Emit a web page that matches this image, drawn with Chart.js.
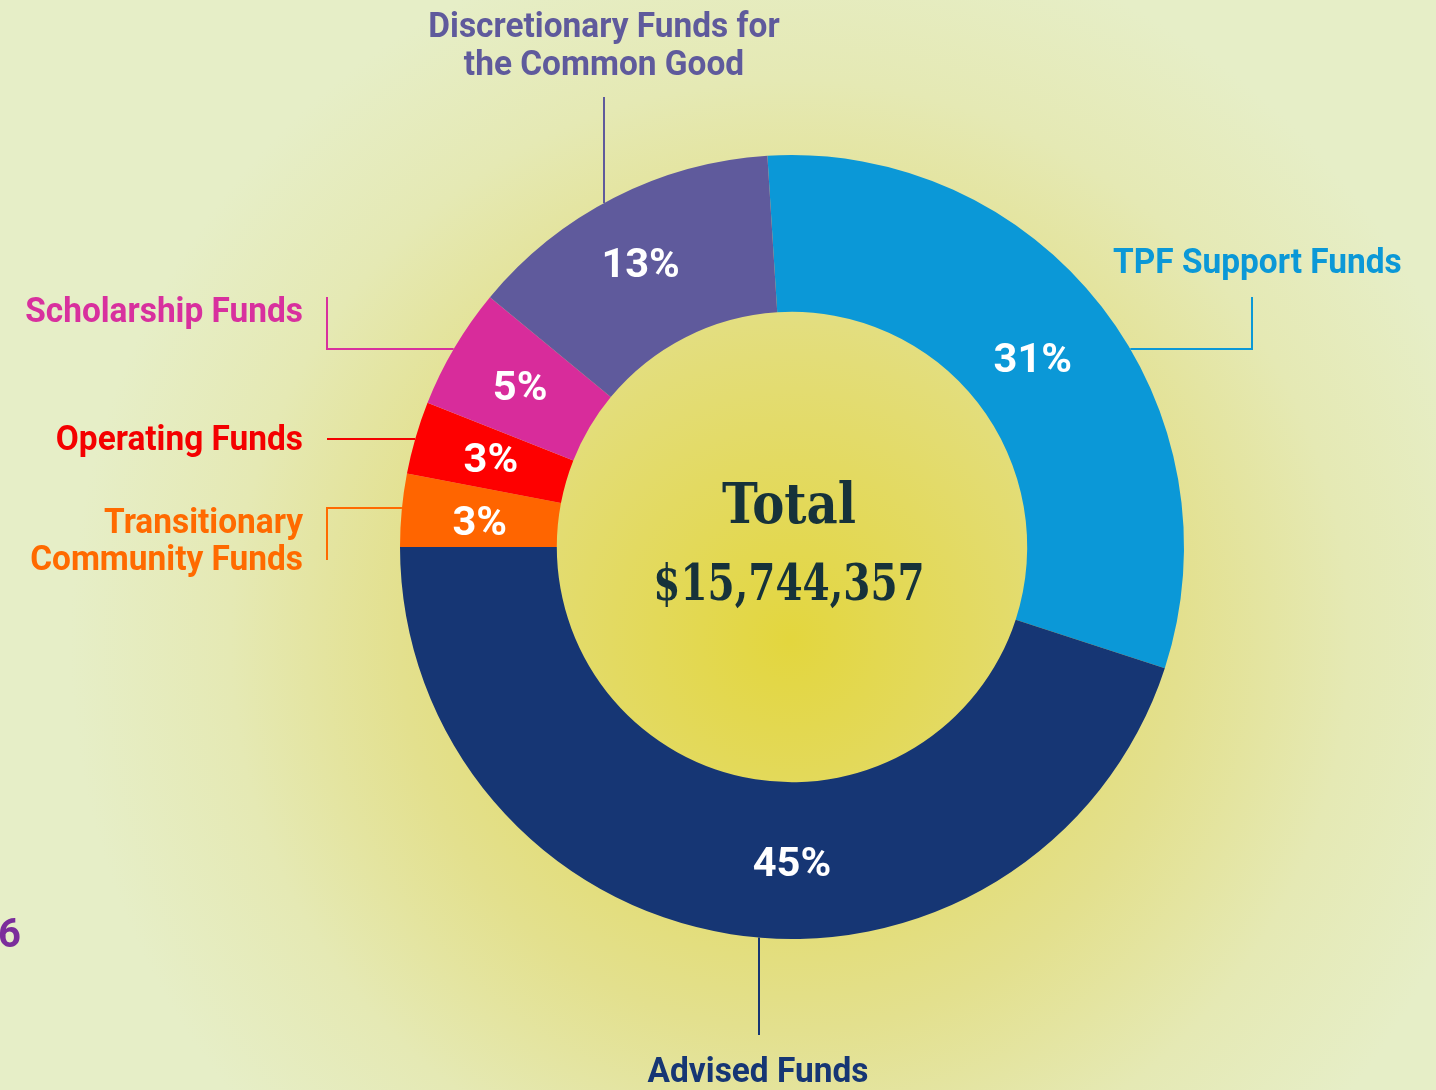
<!DOCTYPE html>
<html>
<head>
<meta charset="utf-8">
<script src="https://cdn.jsdelivr.net/npm/chart.js@4.4.1/dist/chart.umd.min.js"></script>
<style>
html,body{margin:0;padding:0;width:1436px;height:1090px;overflow:hidden;}
body{background:radial-gradient(circle at 790px 640px,#E3D63E 0px,#E3DA62 180px,#E3E08E 390px,#E5E9B4 560px,#E6EEC7 720px);}
#wrap{position:absolute;left:0;top:0;width:1436px;height:1090px;}
</style>
</head>
<body>
<div id="wrap"><canvas id="c" width="1436" height="1090"></canvas></div>
<script>
// ---- data ----
const categories = ['TPF Support Funds','Advised Funds','Transitionary Community Funds','Operating Funds','Scholarship Funds','Discretionary Funds for the Common Good'];
const shares = [31, 45, 3, 3, 5, 13];
const pctLabels = ['31%','45%','3%','3%','5%','13%'];
const sliceColors = ['#0B98D7','#163674','#FF6500','#FE0000','#D82C9B','#5F5A9C'];
const labelColors = ['#0B98D7','#163674','#FF6A00','#F40000','#D8309E','#5F5A9C'];
const totalLabel = 'Total';
const totalValue = '$15,744,357';

// ---- annotation layout (text lines and leader lines) ----
const labelLines = [
  ['TPF Support Funds'],
  ['Advised Funds'],
  ['Transitionary','Community Funds'],
  ['Operating Funds'],
  ['Scholarship Funds'],
  ['Discretionary Funds for','the Common Good']
];
const labelLayout = [
  {align:'left',   x:1113, y:[273]},
  {align:'center', x:758,  y:[1082]},
  {align:'right',  x:303,  y:[533,570]},
  {align:'right',  x:303,  y:[450]},
  {align:'right',  x:303,  y:[322]},
  {align:'center', x:604,  y:[37,75]}
];
// leader: fixed points, then a final straight segment to the ring edge
const leaders = [
  {pts:[[1252,297],[1252,349]], end:'right', at:349},
  {pts:[[759,1035]], end:'bottom', at:759},
  {pts:[[327,560],[327,508]], end:'left', at:508},
  {pts:[[327,439]], end:'left', at:439},
  {pts:[[327,297],[327,349]], end:'left', at:349},
  {pts:[[604,97]], end:'top', at:604}
];
const pctAngleShift = [0, -9, 0, 0, 0, 0];
const pctNudge = [[-7,5],[0,3],[0,6],[0,0],[-2,1],[-9,-3]];

const LABEL_FONT = 'bold 35px Roboto';
const SQUEEZE = 0.955;

function drawText(ctx, txt, x, y, align, sx){
  const w = ctx.measureText(txt).width * sx;
  let left = x;
  if (align === 'center') left = x - w/2;
  else if (align === 'right') left = x - w;
  ctx.save();
  ctx.translate(left, y);
  ctx.scale(sx, 1);
  ctx.textAlign = 'left';
  ctx.fillText(txt, 0, 0);
  ctx.restore();
}

const annot = {
  id:'annot',
  afterDatasetsDraw(chart){
    const ctx = chart.ctx;
    const meta = chart.getDatasetMeta(0);
    const a0 = meta.data[0];
    const cx = a0.x, cy = a0.y, R = a0.outerRadius;
    // leader lines
    leaders.forEach((L,i)=>{
      ctx.save();
      ctx.strokeStyle = labelColors[i];
      ctx.lineWidth = 2;
      ctx.beginPath();
      ctx.moveTo(L.pts[0][0], L.pts[0][1]);
      for (let k=1;k<L.pts.length;k++) ctx.lineTo(L.pts[k][0], L.pts[k][1]);
      let ex, ey;
      if (L.end==='left'){ ey=L.at; ex=cx-Math.sqrt(R*R-(ey-cy)*(ey-cy)); }
      else if (L.end==='right'){ ey=L.at; ex=cx+Math.sqrt(R*R-(ey-cy)*(ey-cy)); }
      else if (L.end==='top'){ ex=L.at; ey=cy-Math.sqrt(R*R-(ex-cx)*(ex-cx)); }
      else { ex=L.at; ey=cy+Math.sqrt(R*R-(ex-cx)*(ex-cx)); }
      ctx.lineTo(ex, ey);
      ctx.stroke();
      ctx.restore();
    });
    // category labels
    ctx.save();
    ctx.font = LABEL_FONT;
    ctx.textBaseline = 'alphabetic';
    labelLines.forEach((lines,i)=>{
      ctx.fillStyle = labelColors[i];
      const Ly = labelLayout[i];
      lines.forEach((t,k)=> drawText(ctx, t, Ly.x, Ly.y[k], Ly.align, SQUEEZE));
    });
    ctx.restore();
    // percent labels
    ctx.save();
    ctx.font = 'bold 40px Roboto';
    ctx.fillStyle = '#FFFFFF';
    ctx.textBaseline = 'middle';
    meta.data.forEach((arc,i)=>{
      const mid = (arc.startAngle + arc.endAngle)/2 + pctAngleShift[i]*Math.PI/180;
      const r = (arc.innerRadius + arc.outerRadius)/2;
      drawText(ctx, pctLabels[i], arc.x + r*Math.cos(mid) + pctNudge[i][0], arc.y + r*Math.sin(mid) + 2 + pctNudge[i][1], 'center', 1.04);
    });
    ctx.restore();
    // center total
    ctx.save();
    ctx.fillStyle = '#16323A';
    ctx.textBaseline = 'alphabetic';
    ctx.font = 'bold 56px "DejaVu Serif"';
    drawText(ctx, totalLabel, cx-3, cy-24, 'center', 0.86);
    ctx.font = 'bold 50px "DejaVu Serif"';
    drawText(ctx, totalValue, cx-3, cy+53, 'center', 0.78);
    ctx.restore();
    // page number fragment
    ctx.save();
    ctx.fillStyle = '#7B2D9B';
    ctx.font = 'bold 40px Roboto';
    ctx.textBaseline = 'alphabetic';
    ctx.textAlign = 'right';
    ctx.fillText('6', 21, 947);
    ctx.restore();
  }
};

new Chart(document.getElementById('c'), {
  type:'doughnut',
  data:{
    labels: categories,
    datasets:[{
      data: shares,
      backgroundColor: sliceColors,
      borderWidth: 0,
      hoverOffset: 0
    }]
  },
  options:{
    responsive:false,
    animation:false,
    rotation:-3.6,
    cutout:'60%',
    layout:{padding:{left:400, right:252, top:155, bottom:151}},
    plugins:{legend:{display:false}, tooltip:{enabled:false}},
    events:[]
  },
  plugins:[annot]
});
</script>
</body>
</html>
